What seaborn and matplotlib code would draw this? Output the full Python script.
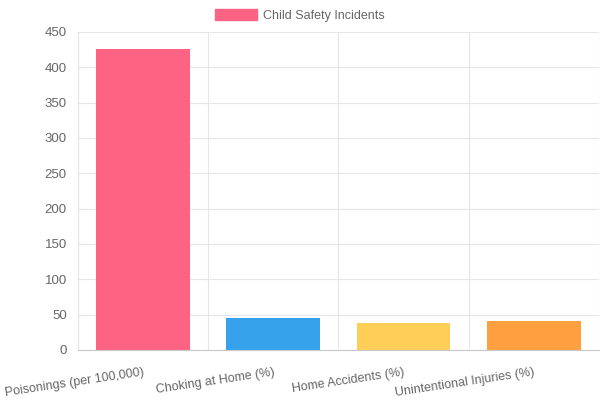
import matplotlib
matplotlib.use("Agg")
import matplotlib.pyplot as plt
import numpy as np
import pandas as pd
import seaborn as sns
from matplotlib.patches import Patch

categories = ["Poisonings (per 100,000)", "Choking at Home (%)", "Home Accidents (%)", "Unintentional Injuries (%)"]
values = [426, 45, 38, 41]
colors = ["#FF6384", "#36A2EB", "#FFCE56", "#FF9F40"]
series_name = "Child Safety Incidents"

df = pd.DataFrame({"category": categories, "value": values})

sns.set_style("white")
plt.rcParams["font.family"] = ["Liberation Sans", "DejaVu Sans"]

fig = plt.figure(figsize=(6, 4), dpi=100)
ax = fig.add_axes([0.13, 0.125, 0.868, 0.795])

sns.barplot(data=df, x="category", y="value", hue="category", palette=colors,
            width=0.72, saturation=1, legend=False, ax=ax, linewidth=0)

ax.set_xlim(-0.5, len(categories) - 0.5)
ax.set_ylim(0, 450)
ax.set_yticks(np.arange(0, 451, 50))
ax.set_xlabel("")
ax.set_ylabel("")

# grid: horizontal every 50, vertical at category boundaries
ax.set_xticks(np.arange(-0.5, len(categories), 1), minor=True)
ax.grid(axis="y", color="#e6e6e6", linewidth=0.8)
ax.grid(axis="x", which="minor", color="#e6e6e6", linewidth=0.8)
ax.set_axisbelow(True)
ax.tick_params(axis="x", which="major", length=0, pad=12)
ax.tick_params(axis="x", which="minor", length=8, color="#e6e6e6", width=0.8)
ax.tick_params(axis="y", length=7, color="#e6e6e6", width=0.8, labelsize=9.5, labelcolor="#666666", pad=1)

ax.set_xticks(range(len(categories)))
ax.set_xticklabels(categories, rotation=8.5, ha="right", rotation_mode="anchor",
                   fontsize=9, color="#666666")

for side in ["top", "right"]:
    ax.spines[side].set_visible(False)
ax.spines["left"].set_color("#e6e6e6")
ax.spines["bottom"].set_color("#c8c8c8")

handle = Patch(facecolor=colors[0], edgecolor=colors[0])
fig.legend(handles=[handle], labels=[series_name], loc="upper center",
           bbox_to_anchor=(0.5, 1.005), frameon=False, fontsize=9,
           labelcolor="#666666", handlelength=3.3, handleheight=0.9, handletextpad=0.5)

fig.savefig("out.png", dpi=100)
